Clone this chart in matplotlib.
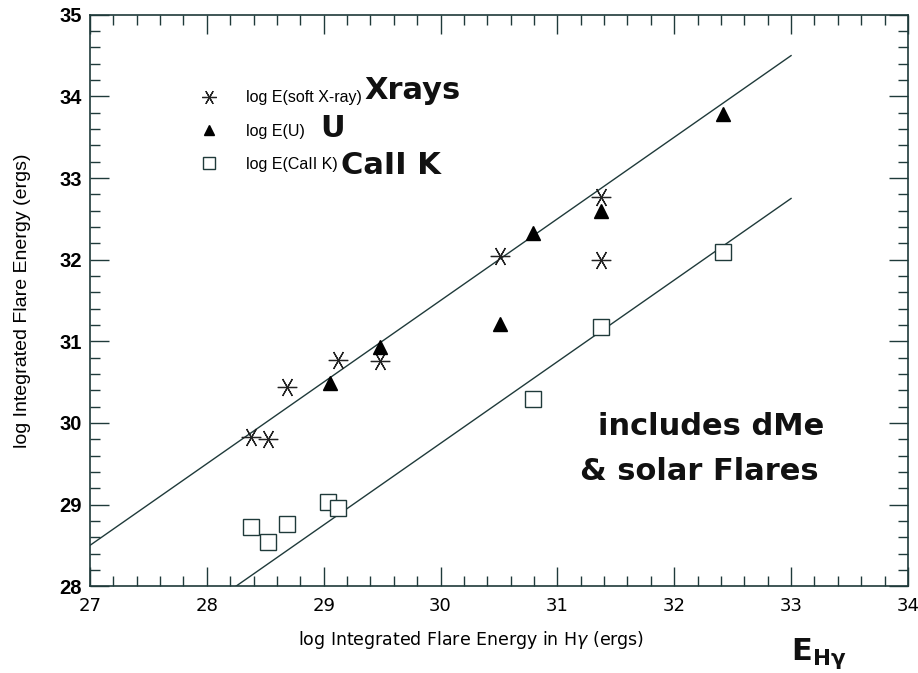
import matplotlib.pyplot as plt
import numpy as np
from matplotlib.ticker import MultipleLocator

# log energies (erg), H-gamma on x
xray_x = [28.38, 28.52, 28.69, 29.12, 29.48, 30.51, 31.37, 31.37]
xray_y = [29.83, 29.80, 30.44, 30.77, 30.76, 32.04, 32.77, 32.00]

u_x = [29.05, 29.48, 30.51, 30.79, 31.37, 32.42]
u_y = [30.49, 30.93, 31.21, 32.33, 32.60, 33.78]

cak_x = [28.38, 28.52, 28.69, 29.04, 29.12, 30.79, 31.37, 32.42]
cak_y = [28.73, 28.54, 28.76, 29.03, 28.96, 30.29, 31.18, 32.10]

# unit-slope fits: y = x + offset
fit_offsets = [1.5, -0.25]
fit_x = [27.0, 33.0]

ink = '#1f3a3a'

fig = plt.figure(figsize=(9.18, 6.73), dpi=100)
ax = fig.add_axes([0.098, 0.129, 0.891, 0.849])

for off in fit_offsets:
    xs = np.array(fit_x)
    ax.plot(xs, xs + off, color=ink, lw=1.0, zorder=1)

ax.plot(xray_x, xray_y, ls='none', marker=(6, 2, 30), ms=14, mew=0.9,
        color='#222222', label='log E(soft X-ray)', zorder=3)
ax.plot(u_x, u_y, ls='none', marker='^', ms=10, color='black',
        label='log E(U)', zorder=3)
ax.plot(cak_x, cak_y, ls='none', marker='s', ms=11, mfc='white', mec=ink,
        mew=1.0, label='log E(CaII K)', zorder=3)

ax.set_xlim(27, 34)
ax.set_ylim(28, 35)
ax.xaxis.set_major_locator(MultipleLocator(1))
ax.xaxis.set_minor_locator(MultipleLocator(0.2))
ax.yaxis.set_major_locator(MultipleLocator(1))
ax.yaxis.set_minor_locator(MultipleLocator(0.2))
ax.tick_params(which='both', direction='in', top=True, right=True,
               color=ink, width=1.0)
ax.tick_params(which='major', length=14)
ax.tick_params(which='minor', length=7)
for s in ax.spines.values():
    s.set_color(ink)
    s.set_linewidth(1.2)

for t in ax.get_yticklabels():
    t.set_fontfamily('Liberation Sans')
    t.set_fontweight('bold')
    t.set_fontsize(14.5)
for t in ax.get_xticklabels():
    t.set_fontsize(13)
ax.tick_params(axis='y', pad=6)
ax.tick_params(axis='x', pad=8)

ax.set_ylabel('log Integrated Flare Energy (ergs)', fontsize=14,
              family='Liberation Sans', labelpad=20)
ax.set_xlabel(r'log Integrated Flare Energy in H$\gamma$ (ergs)', fontsize=12.5,
              labelpad=10)
ax.xaxis.set_label_coords(0.466, -0.075)

leg = ax.legend(loc='upper left', bbox_to_anchor=(0.109, 0.893), frameon=False,
                prop={'family': 'Liberation Sans', 'size': 11.5},
                handletextpad=1.3, labelspacing=1.15, numpoints=1,
                markerscale=0.75)

# handwritten notes
hand = dict(fontsize=22, fontweight='bold', family='DejaVu Sans',
            color='#111111')
ax.text(29.35, 33.97, 'Xrays', **hand)
ax.text(28.97, 33.5, 'U', **hand)
ax.text(29.15, 33.05, 'CaII K', **hand)
ax.text(31.35, 29.85, 'includes dMe', **hand)
ax.text(31.19, 29.3, '& solar Flares', **hand)
fig.text(0.862, 0.02, r'E$_{\mathbf{H\gamma}}$', **hand)

plt.savefig('out.png')
